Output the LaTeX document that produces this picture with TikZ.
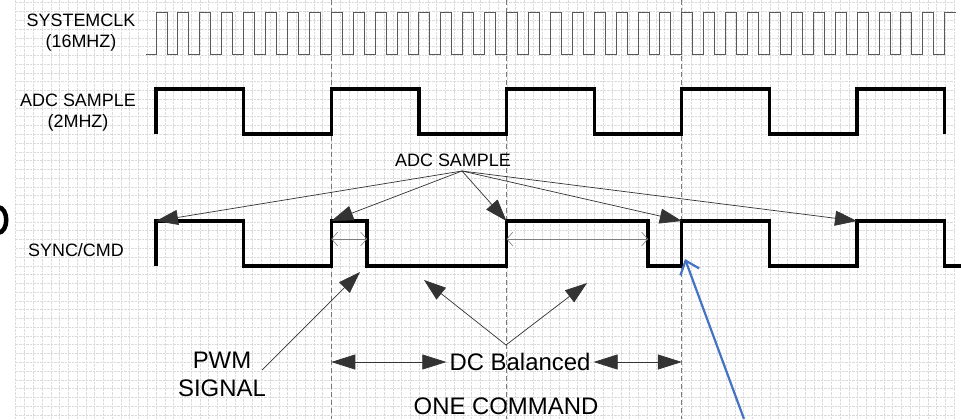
\documentclass[tikz,border=0pt]{standalone}
\usepackage{fontspec}
\setmainfont{Liberation Sans}
\usetikzlibrary{arrows.meta}
\definecolor{noteblue}{RGB}{68,114,196}

\begin{document}
\begin{tikzpicture}[x=1bp, y=-1bp,
        gridline/.style={gray!28, line width=0.5bp, dash pattern=on 2.5bp off 1bp},
        marker/.style={gray!95!black, line width=1bp, dash pattern=on 5bp off 3bp},
        clk/.style={black!65, line width=0.9bp},
        wave/.style={black, line width=3.2bp},
        lbl/.style={inner sep=0pt, font=\fontsize{18}{21}\selectfont},
        biglbl/.style={inner sep=3pt, font=\fontsize{24}{28}\selectfont},
        pointer/.style={black!80, line width=0.7bp, -{Triangle[length=22bp,width=15bp]}},
        span/.style={black!80, line width=0.7bp, {Triangle[length=24bp,width=15bp]}-{Triangle[length=24bp,width=15bp]}},
        gap/.style={black!50, line width=0.6bp, {Straight Barb[length=6bp,width=14bp]}-{Straight Barb[length=6bp,width=14bp]}},
        bluepointer/.style={noteblue, line width=2.2bp, -{Straight Barb[length=12bp,width=20bp]}}]

    \fill[white] (0,0) rectangle (961,419);
    \useasboundingbox (0,0) rectangle (961,419);

    % Draw the background grid
    \foreach \k in {0,...,107}
        \draw[gridline] ({15.7+\k*8.77},0) -- ({15.7+\k*8.77},419);
    \foreach \k in {0,...,47}
        \draw[gridline] (15.7,{2.7+\k*8.77}) -- (954,{2.7+\k*8.77});

    % Draw the dashed command markers
    \coordinate (mkA) at (331.3,0);
    \coordinate (mkB) at (506.5,0);
    \coordinate (mkC) at (681.8,0);
    \draw[marker] (mkA) -- (331.3,419);
    \draw[marker] (mkB) -- (506.5,419);
    \draw[marker] (mkC) -- (681.8,419);

    % Draw the signal names
    \node[lbl] (sysclk) at (81,20) {SYSTEMCLK};
    \node[lbl] (sysfreq) at (81,43) {(16MHZ)};
    \node[lbl] (adclbl) at (78,100) {ADC SAMPLE};
    \node[lbl] (adcfreq) at (78,123) {(2MHZ)};
    \node[lbl] (synclbl) at (76,250) {SYNC/CMD};

    % Draw the system clock
    \draw[clk] (146,54) -- (156,54)
        \foreach \i in {1,...,36} { -- ++(0,-42) -- ++(10.955,0) -- ++(0,42) -- ++(10.955,0) }
        -- ++(0,-42) -- (956,12);

    % Draw the ADC sample clock
    \draw[wave] (156,134) -- (156,89) -- (243.6,89) -- (243.6,134) -- (331.3,134)
        -- (331.3,89) -- (418.9,89) -- (418.9,134) -- (506.5,134)
        -- (506.5,89) -- (594.1,89) -- (594.1,134) -- (681.8,134)
        -- (681.8,89) -- (769.4,89) -- (769.4,134) -- (857,134)
        -- (857,89) -- (944.6,89) -- (944.6,134);

    % Draw the SYNC/CMD line
    \coordinate (e1) at (156,221);
    \coordinate (e2) at (331.3,221);
    \coordinate (e3) at (506.5,221);
    \coordinate (e4) at (681.8,221);
    \coordinate (e5) at (857,221);
    \draw[wave] (156,266) -- (e1) -- (243.6,221) -- (243.6,266) -- (331.3,266)
        -- (e2) -- (367,221) -- (367,266) -- (506.5,266)
        -- (e3) -- (648,221) -- (648,266) -- (681.8,266)
        -- (e4) -- (769.4,221) -- (769.4,266) -- (857,266)
        -- (e5) -- (944.6,221) -- (944.6,266) -- (961,266);

    % Draw the pulse widths inside SYNC/CMD
    \coordinate (w1) at (331.3,239);
    \coordinate (w2) at (367,239);
    \coordinate (w3) at (506.5,239);
    \coordinate (w4) at (648,239);
    \draw[gap] (w1) -- (w2);
    \draw[gap] (w3) -- (w4);

    % Draw the ADC sample pointers
    \node[lbl] (adcs) at (453,160) {ADC SAMPLE};
    \coordinate (adcsfoot) at (462,171);
    \draw[pointer] (adcsfoot) -- (e1);
    \draw[pointer] (adcsfoot) -- (e2);
    \draw[pointer] (adcsfoot) -- (e3);
    \draw[pointer] (adcsfoot) -- (e4);
    \draw[pointer] (adcsfoot) -- (e5);

    % Draw the notes below
    \node[biglbl, align=center] (pwm) at (222,374) {PWM\\SIGNAL};
    \node[biglbl] (dcbal) at (520,362) {DC Balanced};
    \node[biglbl] (onecmd) at (506,406) {ONE COMMAND};

    \coordinate (pwmfoot) at (262,370);
    \coordinate (pwmtip) at (360,272);
    \draw[pointer] (pwmfoot) -- (pwmtip);

    \coordinate (dcfoot) at (506,345);
    \coordinate (dcleft) at (424,280);
    \coordinate (dcright) at (587,283);
    \draw[pointer] (dcfoot) -- (dcleft);
    \draw[pointer] (dcfoot) -- (dcright);

    \draw[span] (dcbal.west) -- (mkA |- dcbal.west);
    \draw[span] (dcbal.east) -- (mkC |- dcbal.east);

    % Draw the blue pointer
    \coordinate (bluefoot) at (744,419);
    \coordinate (bluetip) at (685,259);
    \draw[bluepointer] (bluefoot) -- (bluetip);

    % Draw the cut glyph at the left edge
    \draw[line width=4.5bp] (-2,207) .. controls (9,208) and (9,232) .. (-2,233);

\end{tikzpicture}
\end{document}
